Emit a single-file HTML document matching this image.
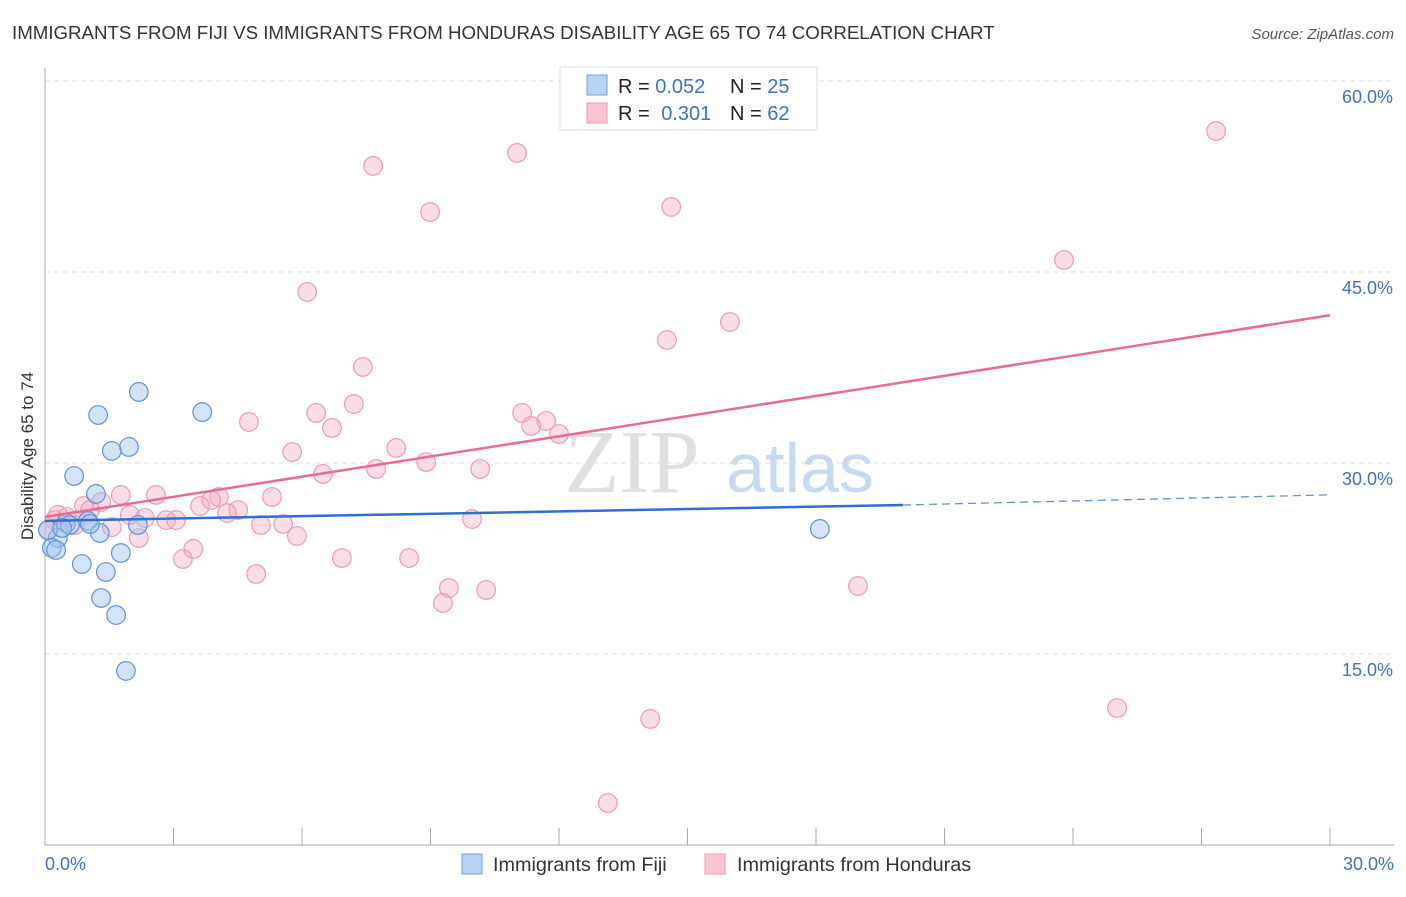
<!DOCTYPE html>
<html><head><meta charset="utf-8"><style>
body{margin:0;background:#fff;font-family:"Liberation Sans",sans-serif;}
</style></head><body>
<svg width="1406" height="892" xmlns="http://www.w3.org/2000/svg" id="chart" style="font-family:'Liberation Sans',sans-serif">
<text x="12" y="39" font-size="18.7" fill="#333">IMMIGRANTS FROM FIJI VS IMMIGRANTS FROM HONDURAS DISABILITY AGE 65 TO 74 CORRELATION CHART</text>
<text x="1394" y="39" font-size="15" fill="#555" font-style="italic" text-anchor="end">Source: ZipAtlas.com</text>
<text x="632" y="492" font-size="90" fill="#e0e0e0" font-family="Liberation Serif" text-anchor="middle">ZIP</text>
<text x="800" y="492" font-size="70" fill="#c9daf0" text-anchor="middle">atlas</text>
<g id="grid"></g>
<g id="marks"></g>
<text transform="translate(33,456) rotate(-90)" font-size="17" fill="#333" text-anchor="middle">Disability Age 65 to 74</text>
<g>
<rect x="560" y="67" width="257" height="63" fill="#fff" stroke="#ddd"/>
<rect x="587" y="75" width="20" height="20" fill="#b8d3f5" stroke="#6fa0e0"/>
<rect x="587" y="103" width="20" height="20" fill="#f9c5d3" stroke="#ee9ab2"/>
<text x="618" y="93" font-size="20" fill="#222">R = <tspan fill="#3a72d0">0.052</tspan></text>
<text x="730" y="93" font-size="20" fill="#222">N = <tspan fill="#3a72d0">25</tspan></text>
<text x="618" y="120" font-size="20" fill="#222">R = <tspan fill="#3a72d0" dx="6">0.301</tspan></text>
<text x="730" y="120" font-size="20" fill="#222">N = <tspan fill="#3a72d0">62</tspan></text>
</g>
<g>
<rect x="462" y="854" width="20" height="20" fill="#b8d3f5" stroke="#6fa0e0"/>
<text x="493" y="871" font-size="19.8" fill="#333">Immigrants from Fiji</text>
<rect x="705" y="854" width="20" height="20" fill="#f9c5d3" stroke="#ee9ab2"/>
<text x="737" y="871" font-size="19.8" fill="#333">Immigrants from Honduras</text>
</g>
</svg>
<script>
const yTicks=[15,30,45,60];
const yTickLabels=["15.0%","30.0%","45.0%","60.0%"];
const xTickLabels=["0.0%","30.0%"];
const fijiX=[2.19,1.24,3.67,1.96,1.56,0.68,1.19,1.00,0.49,2.17,1.28,0.30,0.16,0.26,1.77,0.86,1.42,1.31,1.66,1.89,18.09,0.58,0.07,0.40,1.05];
const fijiY=[35.58,33.77,34.0,31.26,30.95,28.98,27.57,25.45,25.29,25.13,24.50,24.11,23.33,23.17,22.93,22.07,21.44,19.40,18.06,13.67,24.82,25.13,24.74,24.90,25.21];
const honX=[27.34,11.02,7.66,8.99,14.62,23.79,6.12,15.99,14.52,7.42,7.21,6.33,11.14,4.76,11.70,6.70,11.35,12.00,8.20,5.77,8.90,7.73,10.16,6.49,1.77,2.59,5.30,4.06,3.88,1.31,3.62,4.51,4.25,0.91,1.98,2.33,2.83,3.06,9.97,0.51,0.30,1.56,5.04,5.56,2.19,5.88,3.46,3.22,6.93,8.50,4.93,18.98,9.43,10.30,9.29,25.03,14.13,13.14,0.70,0.23,1.05,0.07];
const honY=[56.07,54.35,53.33,49.71,50.11,45.94,43.43,41.07,39.66,37.54,34.63,33.93,33.93,33.22,33.30,32.75,32.91,32.28,31.18,30.86,30.08,29.53,29.53,29.14,27.49,27.49,27.33,27.33,27.09,26.94,26.62,26.31,26.07,26.62,25.92,25.68,25.52,25.52,25.60,25.76,25.92,24.97,25.13,25.21,24.11,24.27,23.25,22.46,22.54,22.54,21.28,20.34,20.18,20.03,19.01,10.76,9.90,3.30,25.13,25.52,26.31,24.74];
const fijiTrend=[25.45,26.7,27.5];
const honTrend=[25.76,41.6];
const NS="http://www.w3.org/2000/svg";
const X=v=>45+v*(1285/30), Y=v=>845-v*(191/15);
const grid=document.getElementById('grid'), marks=document.getElementById('marks');
function mk(tag,attrs,parent){const e=document.createElementNS(NS,tag);for(const k in attrs)e.setAttribute(k,attrs[k]);parent.appendChild(e);return e;}
yTicks.forEach((t,i)=>{
 const l=mk('line',{x1:45,x2:1394,y1:Y(t),y2:Y(t),stroke:'#ddd','stroke-dasharray':'5,4'},grid);
 
 
 const tx=mk('text',{x:1393,y:Y(t)+22,'font-size':18,fill:'#3a72d0','text-anchor':'end'},grid);
 tx.textContent=yTickLabels[i];
 
 
});
const ax=mk('line',{x1:45,x2:45,y1:68,y2:845,stroke:'#aaa'},grid);


const bx=mk('line',{x1:45,x2:1394,y1:845,y2:845,stroke:'#aaa'},grid);


for(let i=1;i<=10;i++){
 const t=mk('line',{x1:X(i*3),x2:X(i*3),y1:828,y2:845,stroke:'#aaa'},grid);
 
 
}
[[0,'start',45],[30,'end',1394]].forEach((d,i)=>{
 const tx=mk('text',{x:d[2],y:870,'font-size':18,fill:'#3a72d0','text-anchor':d[1]},grid);
 tx.textContent=xTickLabels[i];
 
 
});
honX.forEach((x,i)=>{
 const c=mk('circle',{cx:X(x),cy:Y(honY[i]),r:9.3,fill:'rgba(246,170,192,0.4)',stroke:'#ee9ab2','stroke-width':1.2},marks);
 
 
});
fijiX.forEach((x,i)=>{
 const c=mk('circle',{cx:X(x),cy:Y(fijiY[i]),r:9.3,fill:'rgba(160,196,240,0.45)',stroke:'#5e92dc','stroke-width':1.2},marks);
 
 
});
let l=mk('line',{x1:X(0),y1:Y(honTrend[0]),x2:X(30),y2:Y(honTrend[1]),stroke:'#e86a96','stroke-width':2.5},marks);


l=mk('line',{x1:X(0),y1:Y(fijiTrend[0]),x2:X(20.03),y2:Y(fijiTrend[1]),stroke:'#2f6fd1','stroke-width':2.5},marks);


l=mk('line',{x1:X(20.03),y1:Y(fijiTrend[1]),x2:X(30),y2:Y(fijiTrend[2]),stroke:'#5e92dc','stroke-width':1.3,'stroke-dasharray':'8,5'},marks);


</script>
</body></html>
